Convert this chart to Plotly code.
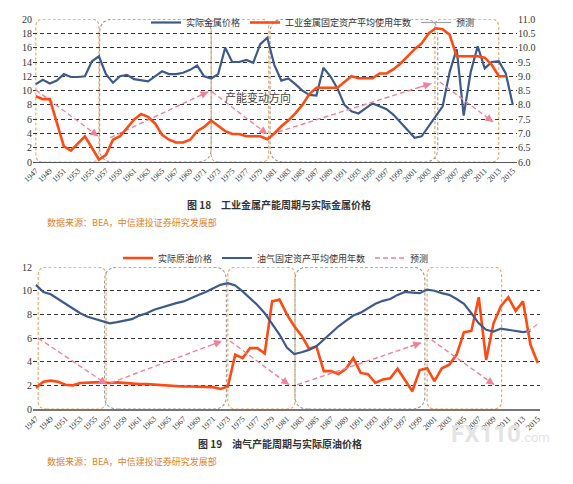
import plotly.graph_objects as go

years = list(range(1947, 2016))

# 图18 data
metal_price = [10.9, 11.5, 11.0, 11.4, 12.3, 11.9, 11.9, 12.0, 14.1, 14.8,
               12.3, 11.1, 12.0, 12.2, 11.6, 11.4, 11.3, 12.0, 12.7, 12.3,
               12.3, 12.5, 12.9, 13.5, 12.0, 11.7, 12.3, 16.0, 14.0, 14.0,
               14.3, 13.9, 16.5, 17.4, 13.6, 11.4, 11.7, 10.9, 10.0, 9.4,
               9.3, 13.2, 12.0, 10.3, 8.0, 7.1, 6.8, 7.5, 8.2, 7.8,
               7.4, 6.6, 5.5, 4.5, 3.4, 3.6, 5.0, 6.4, 7.8, 12.6,
               15.8, 6.5, 12.6, 16.2, 13.1, 14.0, 14.1, 12.4, 8.0]
metal_asset_age = [8.30, 8.20, 8.20, 7.38, 6.55, 6.40, 6.65, 6.90, 6.50, 6.08,
                   6.25, 6.78, 6.90, 7.18, 7.48, 7.68, 7.58, 7.35, 6.95, 6.78,
                   6.68, 6.68, 6.78, 7.08, 7.23, 7.45, 7.25, 7.08, 6.98, 6.98,
                   6.90, 6.90, 6.90, 6.80, 7.00, 7.25, 7.45, 7.70, 8.00, 8.38,
                   8.60, 8.60, 8.60, 8.60, 8.80, 9.00, 8.93, 8.93, 8.93, 9.10,
                   9.10, 9.25, 9.45, 9.70, 9.95, 10.15, 10.50, 10.68, 10.65, 10.45,
                   9.70, 9.70, 9.70, 9.70, 9.65, 9.40, 9.00, 9.00]
metal_arrows = [(1947.0, 10.1, 1955.9, 3.6), (1957.6, 3.4, 1971.6, 9.85),
                (1972.1, 9.85, 1980.0, 3.9), (1981.5, 4.2, 2003.4, 11.0),
                (2004.6, 11.2, 2012.2, 5.6)]
metal_boxes = [(1947.0, 1956.0, "up"), (1956.1, 1972.0, "down"), (1972.0, 1980.2, "up"),
               (1980.4, 2004.3, "down"), (2003.9, 2013.0, "up")]

# 图19 data
oil_price = [1.8, 2.3, 2.4, 2.3, 2.05, 2.0, 2.2, 2.25, 2.25, 2.25,
             2.2, 2.25, 2.2, 2.1, 2.1, 2.1, 2.05, 2.0, 1.97, 1.9,
             1.9, 1.9, 1.9, 1.9, 1.85, 1.7, 1.9, 4.6, 4.3, 5.15,
             5.15, 4.7, 9.1, 9.25, 8.0, 7.0, 6.2, 5.1, 5.3, 3.2,
             3.2, 2.95, 3.4, 4.3, 3.05, 2.95, 2.2, 2.5, 2.6, 3.4,
             2.5, 1.5, 3.3, 3.45, 2.35, 3.45, 3.75, 4.6, 6.5, 6.6,
             9.45, 4.15, 7.25, 8.7, 9.45, 8.3, 9.1, 5.45, 3.9]
oil_asset_age = [10.5, 9.9, 9.7, 9.3, 8.9, 8.5, 8.1, 7.8, 7.6, 7.4,
                 7.25, 7.35, 7.5, 7.6, 7.9, 8.1, 8.4, 8.6, 8.8, 8.95,
                 9.1, 9.4, 9.65, 9.9, 10.2, 10.5, 10.65, 10.45, 9.95, 9.4,
                 8.8, 8.1, 7.2, 6.3, 5.2, 4.65, 4.8, 5.0, 5.3, 5.85,
                 6.4, 7.0, 7.45, 7.9, 8.15, 8.5, 8.9, 9.15, 9.3, 9.65,
                 9.9, 9.85, 9.8, 10.1, 10.0, 9.8, 9.65, 9.3, 8.9, 8.1,
                 7.25, 6.7, 6.55, 6.8, 6.7, 6.6, 6.5, 6.6]
oil_arrows = [(1947.3, 6.0, 1956.6, 2.1), (1957.1, 2.2, 1972.2, 5.75),
              (1973.3, 5.75, 1981.3, 2.05), (1982.4, 2.05, 1999.2, 5.6),
              (2000.6, 5.85, 2009.1, 2.05)]
oil_tail = (2013.5, 6.5, 2015.0, 7.2)
oil_boxes = [(1947.3, 1956.5, "up"), (1956.3, 1972.8, "down"), (1973.0, 1982.1, "up"),
             (1982.1, 1999.7, "down"), (2000.0, 2010.1, "up")]

BLUE = "#3D5A8C"
RED = "#FF4A14"
PINK = "#F2809A"
ORANGE_BOX = "#F3A35E"
GRAY_BOX = "#9A9A9A"
SERIF = "Liberation Serif, Noto Sans CJK SC"
CJK = "Noto Sans CJK SC"

W, H = 573, 484
OFF = 8  # page body margin


def fx(px):
    return (px - OFF) / W


def fy(py):
    return 1 - (py - OFF) / H


def box_path(x0, x1, y0, y1, rx, ry):
    return (f"M {x0+rx},{y0} L {x1-rx},{y0} Q {x1},{y0} {x1},{y0+ry} "
            f"L {x1},{y1-ry} Q {x1},{y1} {x1-rx},{y1} L {x0+rx},{y1} "
            f"Q {x0},{y1} {x0},{y1-ry} L {x0},{y0+ry} Q {x0},{y0} {x0+rx},{y0} Z")


fig = go.Figure()
arrow_notes = []

# ---- top chart
fig.add_trace(go.Scatter(x=years, y=metal_price, name="实际金属价格", mode="lines",
                         line=dict(color=BLUE, width=2.2), xaxis="x", yaxis="y", legend="legend"))
fig.add_trace(go.Scatter(x=years[:len(metal_asset_age)], y=metal_asset_age,
                         name="工业金属固定资产平均使用年数", mode="lines",
                         line=dict(color=RED, width=2.6), xaxis="x", yaxis="y2", legend="legend"))
fig.add_trace(go.Scatter(x=[None], y=[None], name="预测", mode="lines",
                         line=dict(color="#A0A0A0", width=1.2), xaxis="x", yaxis="y", legend="legend"))
for x0, y0, x1, y1 in metal_arrows:
    fig.add_trace(go.Scatter(x=[x0, x1], y=[y0, y1], mode="lines", showlegend=False,
                             line=dict(color=PINK, width=1.4, dash="5px,3px"),
                             xaxis="x", yaxis="y", hoverinfo="skip"))
    arrow_notes.append(dict(x=x1, y=y1, ax=x1 - 0.1 * (x1 - x0), ay=y1 - 0.1 * (y1 - y0),
                            xref="x", yref="y", axref="x", ayref="y"))

# ---- bottom chart
fig.add_trace(go.Scatter(x=years, y=oil_price, name="实际原油价格", mode="lines",
                         line=dict(color=RED, width=2.6), xaxis="x2", yaxis="y3", legend="legend2"))
fig.add_trace(go.Scatter(x=years[:len(oil_asset_age)], y=oil_asset_age,
                         name="油气固定资产平均使用年数", mode="lines",
                         line=dict(color=BLUE, width=2.2), xaxis="x2", yaxis="y3", legend="legend2"))
fig.add_trace(go.Scatter(x=[None], y=[None], name="预测", mode="lines",
                         line=dict(color=PINK, width=1.4, dash="5px,3px"),
                         xaxis="x2", yaxis="y3", legend="legend2"))
for x0, y0, x1, y1 in oil_arrows:
    fig.add_trace(go.Scatter(x=[x0, x1], y=[y0, y1], mode="lines", showlegend=False,
                             line=dict(color=PINK, width=1.4, dash="5px,3px"),
                             xaxis="x2", yaxis="y3", hoverinfo="skip"))
    arrow_notes.append(dict(x=x1, y=y1, ax=x1 - 0.1 * (x1 - x0), ay=y1 - 0.1 * (y1 - y0),
                            xref="x2", yref="y3", axref="x2", ayref="y3"))
fig.add_trace(go.Scatter(x=[oil_tail[0], oil_tail[2]], y=[oil_tail[1], oil_tail[3]], mode="lines",
                         showlegend=False, line=dict(color=PINK, width=1.2, dash="5px,3px"),
                         xaxis="x2", yaxis="y3", hoverinfo="skip"))

shapes = []
for x0, x1, kind in metal_boxes:
    col = ORANGE_BOX if kind == "up" else GRAY_BOX
    r = 1.1 if kind == "up" else 2.0
    shapes.append(dict(type="path", xref="x", yref="y", layer="below",
                       path=box_path(x0, x1, 0, 20, r, r * 7.0 / 7.17),
                       line=dict(color=col, width=1.1, dash="3px,2px")))
for x0, x1, kind in oil_boxes:
    col = ORANGE_BOX if kind == "up" else GRAY_BOX
    r = 1.1 if kind == "up" else 1.8
    shapes.append(dict(type="path", xref="x2", yref="y3", layer="below",
                       path=box_path(x0, x1, 0, 12, r, r * 7.38 / 11.83),
                       line=dict(color=col, width=1.1, dash="3px,2px")))

tick_years = list(range(1947, 2016, 2))
xcommon = dict(tickvals=tick_years, ticktext=[str(y) for y in tick_years], tickangle=-45,
               tickfont=dict(family=SERIF, size=8, color="#333"), showgrid=False,
               zeroline=False, ticks="", showline=True, automargin=False)
ycommon = dict(showgrid=True, gridcolor="#333", griddash="4px,3px", gridwidth=0.8,
               zeroline=False, ticks="", automargin=False,
               tickfont=dict(family=SERIF, size=10, color="#333"))

fig.update_layout(
    width=W, height=H, margin=dict(l=0, r=0, t=0, b=0, autoexpand=False),
    paper_bgcolor="white", plot_bgcolor="white",
    xaxis=dict(domain=[fx(33), fx(517)], range=[1946.6, 2015.6], anchor="y",
               linecolor="#555", linewidth=1, **xcommon),
    yaxis=dict(domain=[fy(162), fy(19)], range=[0, 20.02], dtick=2, anchor="x", **ycommon),
    yaxis2=dict(range=[6, 11.005], dtick=0.5, tickformat=".1f", overlaying="y", side="right",
                anchor="x", showgrid=False, zeroline=False, ticks="", automargin=False,
                tickfont=dict(family=SERIF, size=10, color="#333")),
    xaxis2=dict(domain=[fx(33), fx(540)], range=[1946.6, 2015.3], anchor="y3",
                linecolor="#777", linewidth=2, **xcommon),
    yaxis3=dict(domain=[fy(409), fy(267)], range=[0, 12.01], dtick=2, anchor="x2", **ycommon),
    legend=dict(orientation="h", x=fx(146), y=1, xanchor="left", yanchor="top",
                font=dict(family=CJK, size=9, color="#333"), bgcolor="rgba(0,0,0,0)",
                itemwidth=30, tracegroupgap=0),
    legend2=dict(orientation="h", x=fx(118), y=fy(258), xanchor="left", yanchor="middle",
                 font=dict(family=CJK, size=9, color="#333"), bgcolor="rgba(0,0,0,0)",
                 itemwidth=30, tracegroupgap=0),
    shapes=shapes,
    showlegend=True,
)

for a in arrow_notes:
    fig.add_annotation(text="", showarrow=True, arrowhead=2, arrowsize=1.2, arrowwidth=1.3,
                       arrowcolor=PINK, **a)

fig.add_annotation(x=1978.7, y=9.1, xref="x", yref="y", text="产能变动方向", showarrow=False,
                   font=dict(family=CJK, size=11, color="#444"))
fig.add_annotation(x=fx(279), y=fy(205), xref="paper", yref="paper",
                   text="<b>图 18　工业金属产能周期与实际金属价格</b>", showarrow=False,
                   font=dict(family=CJK, size=10, color="#333"))
fig.add_annotation(x=fx(45), y=fy(222), xref="paper", yref="paper", xanchor="left",
                   text="数据来源：BEA，中信建投证券研究发展部", showarrow=False,
                   font=dict(family=CJK, size=9, color="#E0802A"))
fig.add_annotation(x=fx(280), y=fy(453), xref="paper", yref="paper",
                   text="<b>图 19　油气产能周期与实际原油价格</b>", showarrow=False,
                   font=dict(family=CJK, size=10, color="#333"))
fig.add_annotation(x=fx(45), y=fy(470), xref="paper", yref="paper", xanchor="left",
                   text="数据来源：BEA，中信建投证券研究发展部", showarrow=False,
                   font=dict(family=CJK, size=9, color="#E0802A"))
fig.add_annotation(x=fx(552), y=fy(450), xref="paper", yref="paper", xanchor="right",
                   text="<b>FX110</b><span style='font-size:13px'>.com</span>", showarrow=False,
                   font=dict(family="Roboto", size=24, color="#E4E4E4"))

fig.write_html("out.html")
